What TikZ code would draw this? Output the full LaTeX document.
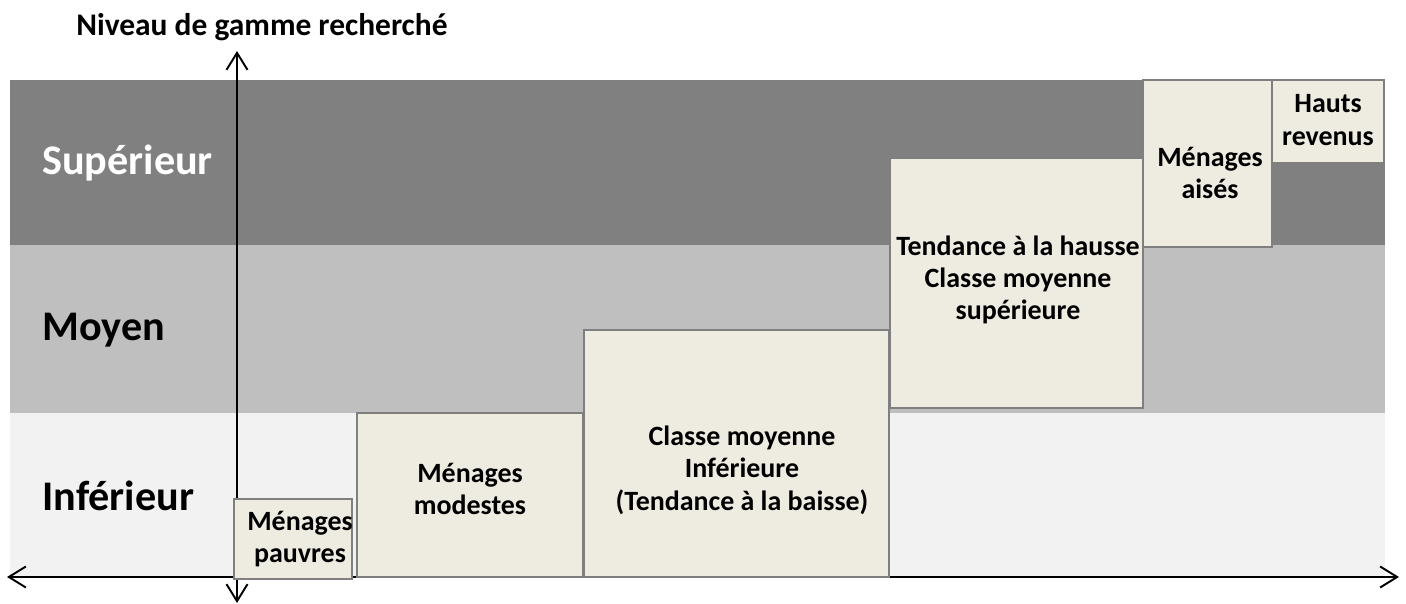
\documentclass[tikz,border=0pt]{standalone}
\usepackage{fontspec}
\setmainfont{Carlito}
\usepackage{xcolor}
\usetikzlibrary{arrows.meta}
\definecolor{gris_sup}{HTML}{808080}
\definecolor{gris_moy}{HTML}{BFBFBF}
\definecolor{gris_inf}{HTML}{F2F2F2}
\definecolor{fond_box}{HTML}{EEECE1}
\definecolor{bord_box}{HTML}{7F7F7F}
\tikzset{
    band/.style = {draw=none},
    gbox/.style = {fill=fond_box, draw=bord_box, line width=0.6pt},
    btext/.style = {align=center, inner sep=0pt, font=\fontsize{15.9}{18.4}\selectfont\bfseries},
    lvl/.style = {anchor=west, inner sep=0pt, font=\fontsize{24}{28}\selectfont\bfseries},
    axe/.style = {line width=1.1pt, {Straight Barb[length=0.34cm, width=0.42cm]}-{Straight Barb[length=0.34cm, width=0.42cm]}}
}

\begin{document}
\begin{tikzpicture}[x=0.02cm, y=-0.02cm]
    \useasboundingbox (0,0) rectangle (1406,604);
    % bandes
    \fill[band, gris_sup] (10,80) rectangle (1385,245);
    \fill[band, gris_moy] (10,245) rectangle (1385,413);
    \fill[band, gris_inf] (10,413) rectangle (1385,577);
    \node[lvl, white] (sup) at (42,163) {Supérieur};
    \node[lvl] (moy) at (42,330) {Moyen};
    \node[lvl] (inf) at (42,496) {Inférieur};
    % axes
    \coordinate (xg) at (7,577);
    \coordinate (xd) at (1399,577);
    \coordinate (yh) at (237,51);
    \coordinate (yb) at (237,603);
    \draw[axe] (xg) -- (xd);
    \draw[axe] (yb) -- (yh);
    \node[btext, font=\fontsize{17.9}{20}\selectfont\bfseries] (titre) at (262,27) {Niveau de gamme recherché};
    % segments
    \draw[gbox] (234,499) rectangle (352,579);
    \draw[gbox] (357,413) rectangle (583,577);
    \draw[gbox] (584,330) rectangle (889,577);
    \draw[gbox] (890,158) rectangle (1143,408);
    \draw[gbox] (1143,80) rectangle (1272,247);
    \draw[gbox] (1272,80) rectangle (1384,163);
    \node[btext] (pauvres) at (300,539) {Ménages\\pauvres};
    \node[btext] (modestes) at (470,489) {Ménages\\modestes};
    \node[btext] (cminf) at (742,470) {Classe moyenne\\Inférieure\\(Tendance à la baisse)};
    \node[btext] (cmsup) at (1018,280) {Tendance à la hausse\\Classe moyenne\\supérieure};
    \node[btext] (aises) at (1210,173) {Ménages\\aisés};
    \node[btext] (hauts) at (1328,120) {Hauts\\revenus};
\end{tikzpicture}
\end{document}
